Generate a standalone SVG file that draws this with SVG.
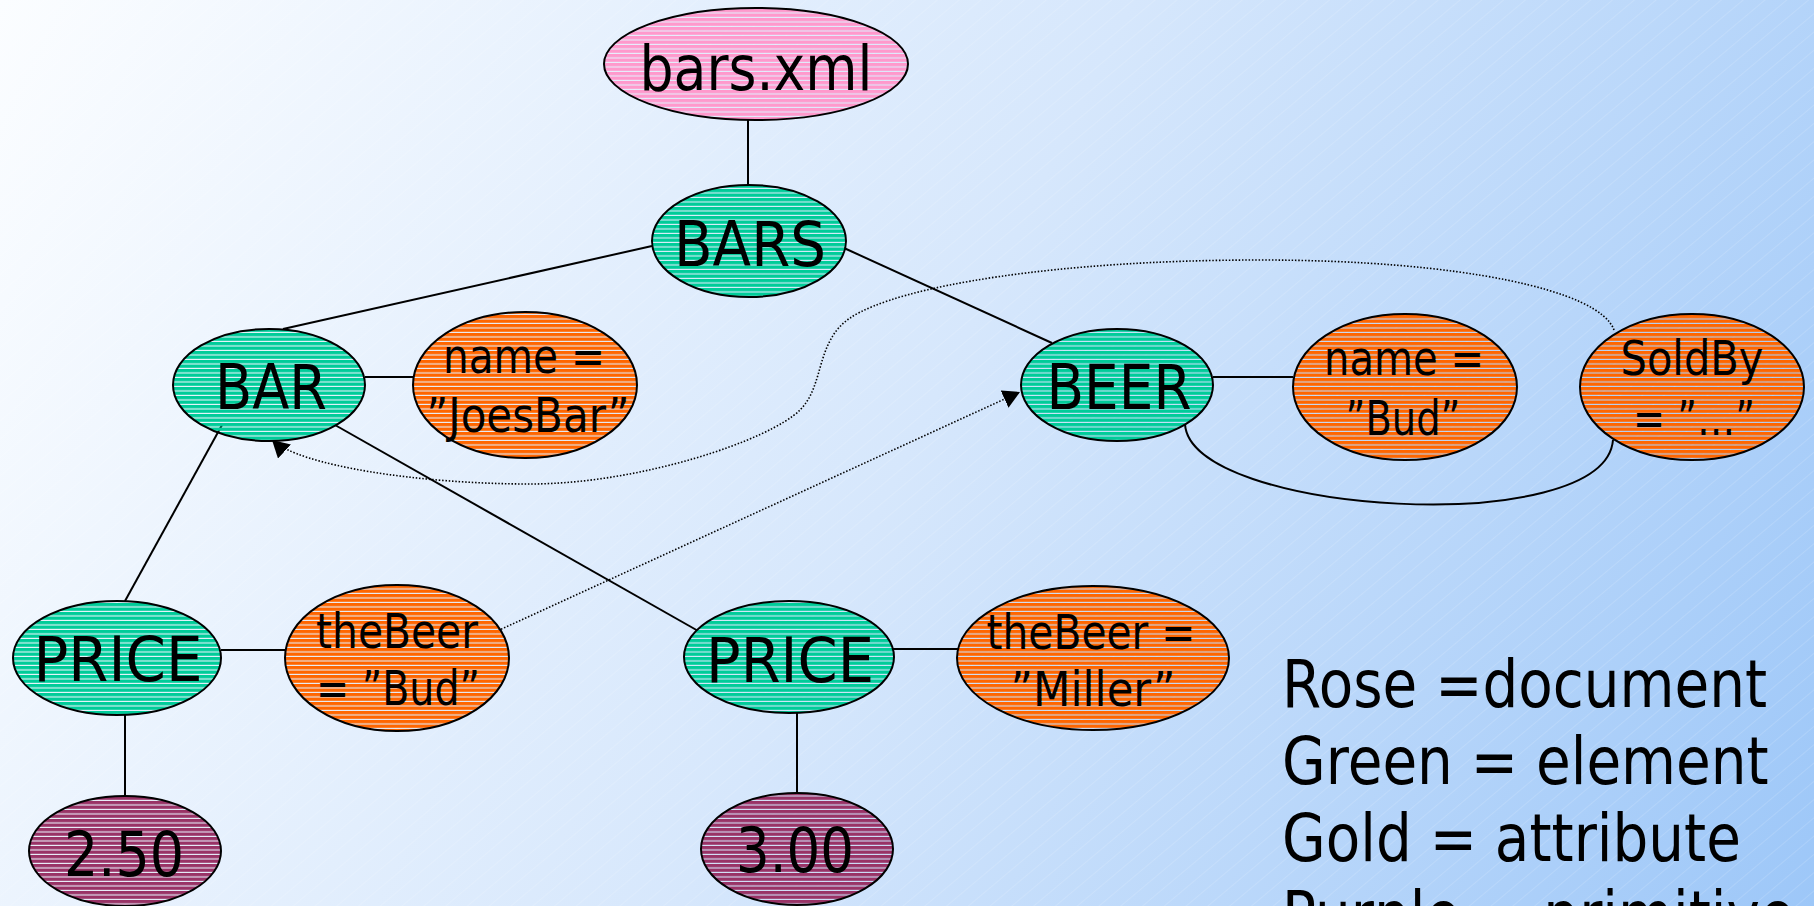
<svg xmlns="http://www.w3.org/2000/svg" width="1814" height="906" viewBox="0 0 1814 906">
  <style>
    .node ellipse { stroke: #000; stroke-width: 2; }
    .doc { fill: url(#stripe-rose); }
    .elem { fill: url(#stripe-green); }
    .attr { fill: url(#stripe-gold); }
    .prim { fill: url(#stripe-purple); }
    text { font-family: "DejaVu Sans", Verdana, sans-serif; fill: #000; text-anchor: middle; }
    .big { font-size: 63px; }
    .small { font-size: 48px; }
    #legend text { font-size: 65px; text-anchor: start; }
    .edge { fill: none; stroke: #000; stroke-width: 2; }
    .ref { fill: none; stroke: #000; stroke-width: 1.6; stroke-dasharray: 1.5 1.8; marker-end: url(#arrow); }
  </style>
  <defs>
    <linearGradient id="bg" gradientUnits="userSpaceOnUse" x1="0" y1="0" x2="1814" y2="906">
      <stop offset="0" stop-color="#fbfdff"/>
      <stop offset="0.5" stop-color="#d6e7fc"/>
      <stop offset="1" stop-color="#9dc7f8"/>
    </linearGradient>
    <pattern id="sheen" width="14" height="14" patternUnits="userSpaceOnUse" patternTransform="rotate(-40)">
      <line x1="0" y1="0.5" x2="14" y2="0.5" stroke="#fff" stroke-opacity="0.2" stroke-width="0.7"/>
    </pattern>
    <!-- horizontally striped fills: solid band with a thin see-through gap -->
    <pattern id="stripe-rose" width="10" height="4.5" patternUnits="userSpaceOnUse">
      <rect width="10" height="3.4" fill="#ff99cc"/>
    </pattern>
    <pattern id="stripe-green" width="10" height="4.5" patternUnits="userSpaceOnUse">
      <rect width="10" height="3.4" fill="#00cc99"/>
    </pattern>
    <pattern id="stripe-gold" width="10" height="4.5" patternUnits="userSpaceOnUse">
      <rect width="10" height="3.4" fill="#ff6600"/>
    </pattern>
    <pattern id="stripe-purple" width="10" height="4.5" patternUnits="userSpaceOnUse">
      <rect width="10" height="3.4" fill="#993366"/>
    </pattern>
    <marker id="arrow" markerUnits="userSpaceOnUse" markerWidth="17" markerHeight="19" viewBox="0 0 17 19" refX="17" refY="9.5" orient="auto">
      <path d="M0,0 L17,9.5 L0,19 z" fill="#000"/>
    </marker>
  </defs>

  <!-- backdrop -->
  <rect width="1814" height="906" fill="url(#bg)"/>
  <rect width="1814" height="906" fill="url(#sheen)"/>

  <!-- tree edges and reference links -->
  <g id="connectors">
    <line class="edge" x1="748" y1="120" x2="748" y2="185"/>
    <line class="edge" x1="652" y1="246" x2="283" y2="329"/>
    <line class="edge" x1="844" y1="248" x2="1052" y2="343"/>
    <line class="edge" x1="365" y1="377" x2="413" y2="377"/>
    <line class="edge" x1="222" y1="425" x2="125" y2="601"/>
    <line class="edge" x1="335" y1="425" x2="700" y2="632"/>
    <line class="edge" x1="1213" y1="377" x2="1293" y2="377"/>
    <line class="edge" x1="221" y1="650" x2="285" y2="650"/>
    <line class="edge" x1="125" y1="715" x2="125" y2="796"/>
    <line class="edge" x1="893" y1="649" x2="958" y2="649"/>
    <line class="edge" x1="797" y1="713" x2="797" y2="793"/>
    <path class="edge" d="M1185,424 C1190,515 1605,540 1613,440"/>
    <!-- SoldBy refers back to BAR -->
    <path class="ref" d="M1614,330 C1600,290 1460,260 1260,260 C1060,260 900,285 850,318 C815,342 825,385 800,410 C770,440 640,484 530,484 C420,484 300,466 272,440"/>
    <!-- theBeer refers to BEER -->
    <path class="ref" d="M495,632 L1020,392"/>
  </g>

  <g id="node-barsxml" class="node">
    <ellipse class="doc" cx="756" cy="64" rx="152" ry="56"/>
    <text class="big" x="756" y="90" textLength="233" lengthAdjust="spacingAndGlyphs">bars.xml</text>
  </g>
  <g id="node-bars" class="node">
    <ellipse class="elem" cx="749" cy="241" rx="97" ry="56"/>
    <text class="big" x="750" y="266" textLength="152" lengthAdjust="spacingAndGlyphs">BARS</text>
  </g>
  <g id="node-bar" class="node">
    <ellipse class="elem" cx="269" cy="385" rx="96" ry="56"/>
    <text class="big" x="271" y="409" textLength="112" lengthAdjust="spacingAndGlyphs">BAR</text>
  </g>
  <g id="node-bar-name" class="node">
    <ellipse class="attr" cx="525" cy="385" rx="112" ry="73"/>
    <text class="small" x="524" y="373" textLength="162" lengthAdjust="spacingAndGlyphs">name =</text>
    <text class="small" x="528" y="432" textLength="203" lengthAdjust="spacingAndGlyphs">”JoesBar”</text>
  </g>
  <g id="node-beer" class="node">
    <ellipse class="elem" cx="1117" cy="385" rx="96" ry="56"/>
    <text class="big" x="1119" y="409" textLength="145" lengthAdjust="spacingAndGlyphs">BEER</text>
  </g>
  <g id="node-beer-name" class="node">
    <ellipse class="attr" cx="1405" cy="387" rx="112" ry="73"/>
    <text class="small" x="1404" y="375" textLength="160" lengthAdjust="spacingAndGlyphs">name =</text>
    <text class="small" x="1403" y="435" textLength="115" lengthAdjust="spacingAndGlyphs">”Bud”</text>
  </g>
  <g id="node-beer-soldby" class="node">
    <ellipse class="attr" cx="1692" cy="387" rx="112" ry="73"/>
    <text class="small" x="1692" y="375" textLength="143" lengthAdjust="spacingAndGlyphs">SoldBy</text>
    <text class="small" x="1694" y="435" textLength="122" lengthAdjust="spacingAndGlyphs">= ”…”</text>
  </g>
  <g id="node-price1" class="node">
    <ellipse class="elem" cx="117" cy="658" rx="104" ry="57"/>
    <text class="big" x="118" y="681" textLength="169" lengthAdjust="spacingAndGlyphs">PRICE</text>
  </g>
  <g id="node-price1-thebeer" class="node">
    <ellipse class="attr" cx="397" cy="658" rx="112" ry="73"/>
    <text class="small" x="397" y="648" textLength="162" lengthAdjust="spacingAndGlyphs">theBeer</text>
    <text class="small" x="398" y="705" textLength="164" lengthAdjust="spacingAndGlyphs">= ”Bud”</text>
  </g>
  <g id="node-price1-value" class="node">
    <ellipse class="prim" cx="125" cy="851" rx="96" ry="55"/>
    <text class="big" x="124" y="876" textLength="120" lengthAdjust="spacingAndGlyphs">2.50</text>
  </g>
  <g id="node-price2" class="node">
    <ellipse class="elem" cx="789" cy="657" rx="105" ry="56"/>
    <text class="big" x="790" y="682" textLength="168" lengthAdjust="spacingAndGlyphs">PRICE</text>
  </g>
  <g id="node-price2-thebeer" class="node">
    <ellipse class="attr" cx="1093" cy="658" rx="136" ry="72"/>
    <text class="small" x="1091" y="649" textLength="209" lengthAdjust="spacingAndGlyphs">theBeer =</text>
    <text class="small" x="1093" y="706" textLength="165" lengthAdjust="spacingAndGlyphs">”Miller”</text>
  </g>
  <g id="node-price2-value" class="node">
    <ellipse class="prim" cx="797" cy="849" rx="96" ry="56"/>
    <text class="big" x="795" y="872" textLength="118" lengthAdjust="spacingAndGlyphs">3.00</text>
  </g>

  <!-- colour key -->
  <g id="legend" transform="translate(1282,0) scale(0.868,1)">
    <text x="0" y="707">Rose =document</text>
    <text x="0" y="784">Green = element</text>
    <text x="0" y="861">Gold = attribute</text>
    <text x="0" y="938">Purple = primitive</text>
  </g>
</svg>
